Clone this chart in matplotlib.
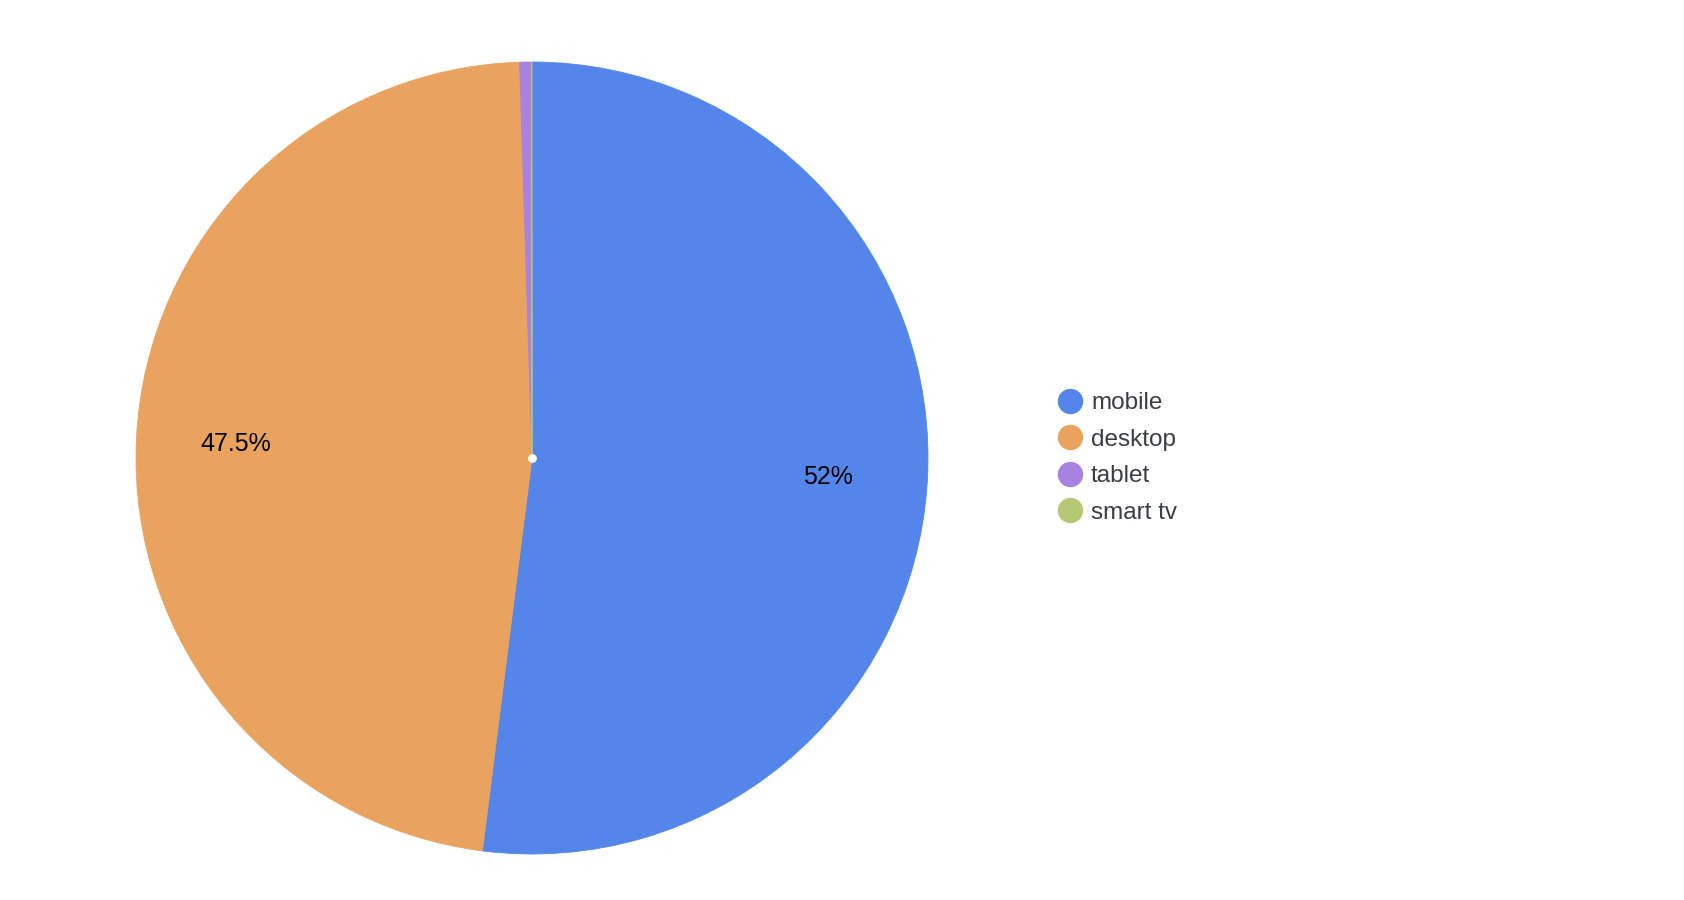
import matplotlib
matplotlib.use("Agg")
import matplotlib.pyplot as plt
from matplotlib.lines import Line2D

categories = ["mobile", "desktop", "tablet", "smart tv"]
values = [52.0, 47.5, 0.48, 0.02]
colors = ["#5486EA", "#E9A35F", "#A881E1", "#B8C774"]

plt.rcParams['font.family'] = ['Liberation Sans', 'DejaVu Sans']

W, H = 1684, 900
fig = plt.figure(figsize=(W / 100, H / 100), dpi=100)
cx, cy, r = 532, 458, 396
ax = fig.add_axes([(cx - r) / W, (H - cy - r) / H, 2 * r / W, 2 * r / H])


def fmt(p):
    return f"{round(p, 1):g}%" if p > 5 else ""


wedges, texts, autotexts = ax.pie(
    values, colors=colors, startangle=90, counterclock=False,
    radius=1, autopct=fmt, pctdistance=0.75,
    wedgeprops=dict(linewidth=0.6, edgecolor=None),
    textprops=dict(fontsize=18, color="black"))
for w, c in zip(wedges, colors):
    w.set_edgecolor(c)
ax.set_xlim(-1, 1)
ax.set_ylim(-1, 1)
ax.scatter([0], [0], s=40, color="white", zorder=5, linewidths=0)

handles = [Line2D([], [], marker='o', linestyle='none', markersize=17.3,
                  markerfacecolor=c, markeredgecolor=c) for c in colors]
leg = fig.legend(handles, categories, loc='center left',
                 bbox_to_anchor=(1057 / W, 1 - 458 / H), frameon=False,
                 fontsize=17.5, handlelength=1.1, handletextpad=0.3,
                 labelspacing=0.6, borderpad=0, borderaxespad=0)
for t in leg.get_texts():
    t.set_color("#3a3d42")

fig.savefig("out.png", dpi=100, facecolor="white")
